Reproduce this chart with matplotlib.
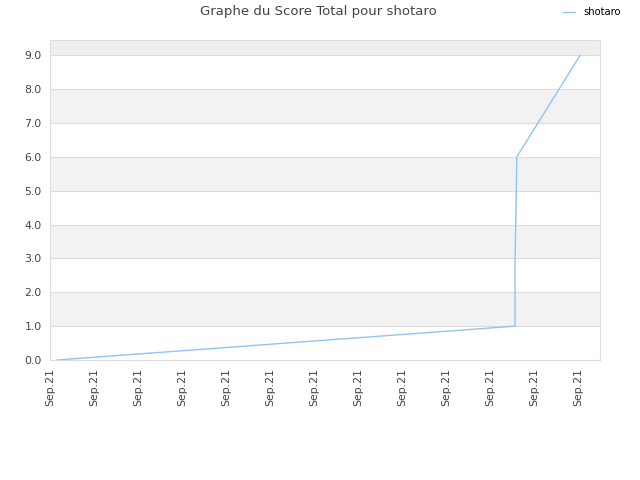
import matplotlib
matplotlib.use('Agg')
import matplotlib.pyplot as plt
import numpy as np

# data
x_vals = [0.16, 10.57, 10.57, 10.61, 12.05]
scores = [0.0, 1.0, 3.0, 6.0, 9.0]
tick_pos = list(range(13))
tick_labels = ['Sep.21'] * 13
series_name = 'shotaro'
title = 'Graphe du Score Total pour shotaro'

plt.rcParams['font.family'] = 'DejaVu Sans'

fig = plt.figure(figsize=(6.4, 4.8), dpi=100)
ax = fig.add_axes([50/640, 120/480, 550/640, 320/480])

ymax = 9.45
ax.set_xlim(0, 12.5)
ax.set_ylim(0, ymax)

# alternating bands
for k in range(10):
    lo, hi = k, min(k + 1, ymax)
    if k == 9:
        ax.axhspan(lo, hi, color='#eeeeee', zorder=0, lw=0)
    elif k % 2 == 1:
        ax.axhspan(lo, hi, color='#f2f2f2', zorder=0, lw=0)
for k in range(1, 10):
    ax.axhline(k, color='#dddddd', lw=0.8, zorder=1)

line, = ax.plot(x_vals, scores, color='#90c4f5', lw=1.0, zorder=3,
                label=series_name)

ax.set_yticks(np.arange(0, 10, 1))
ax.set_yticklabels(['{:.1f}'.format(v) for v in np.arange(0, 10, 1)])
ax.set_xticks(tick_pos)
ax.set_xticklabels(tick_labels, rotation=90)
ax.tick_params(length=0, labelsize=7.8, labelcolor='#444444', pad=6)

for s in ax.spines.values():
    s.set_color('#dddddd')

fig.text(318/640, 1 - 12/480, title, ha='center', va='center',
         fontsize=9.5, color='#444444')
fig.legend(handles=[line], loc='center', bbox_to_anchor=(592/640, 1 - 12/480),
           frameon=False, fontsize=7.2, handlelength=1.2, handletextpad=0.8)

fig.savefig('out.png', dpi=100, facecolor='white')
